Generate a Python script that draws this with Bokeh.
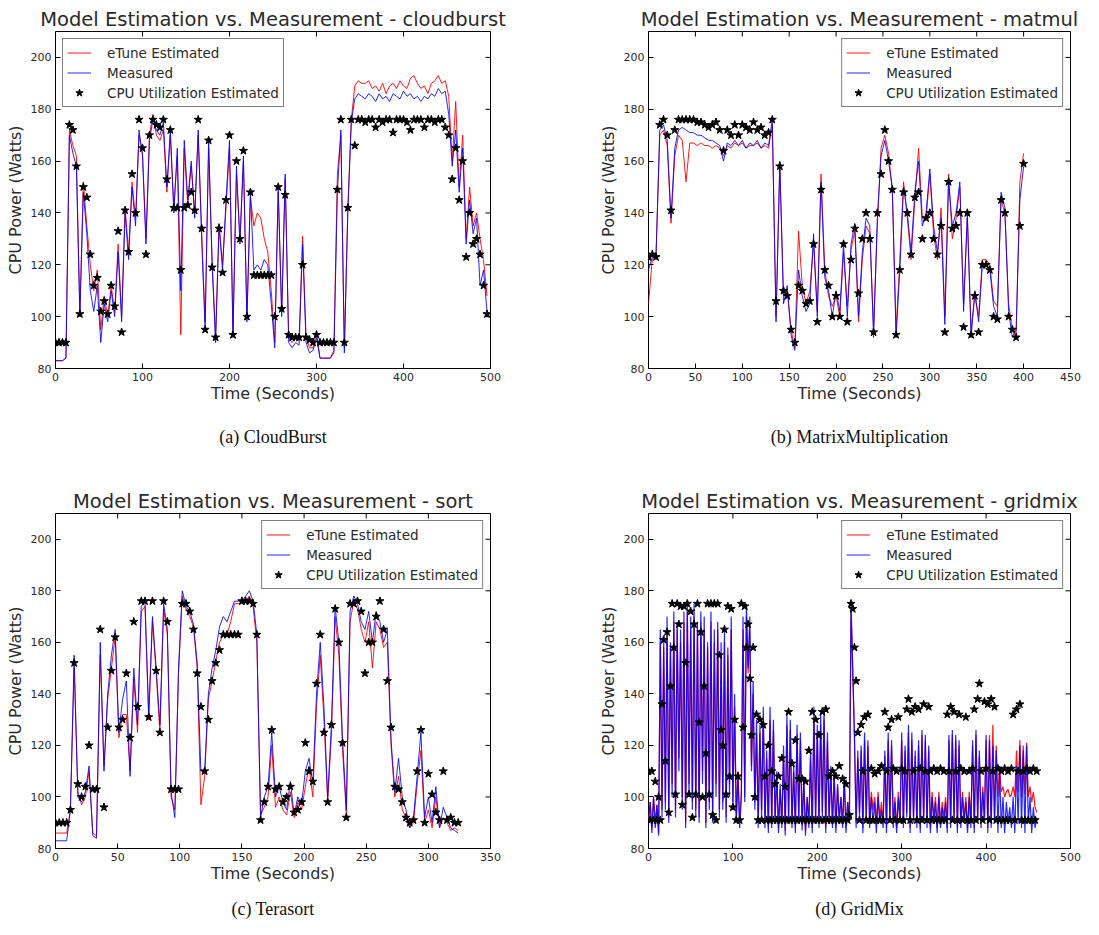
import numpy as np
from bokeh.plotting import figure
from bokeh.layouts import column, row
from bokeh.models import Title, Range1d, FixedTicker
from bokeh.embed import file_html
from bokeh.resources import INLINE

# ---------------- data ----------------
# (a) CloudBurst, one sample every 4 s
step_a = 4
measured_a = [83, 83, 83, 84, 170, 163, 158, 100, 148, 132,
              110, 102, 112, 90, 105, 98, 110, 100, 125, 98,
              140, 122, 150, 135, 172, 162, 128, 168, 176, 172,
              170, 175, 150, 172, 140, 165, 110, 168, 145, 160,
              138, 172, 130, 95, 168, 120, 90, 135, 118, 145,
              168, 92, 158, 128, 162, 98, 148, 118, 120, 118,
              122, 120, 105, 88, 150, 100, 155, 90, 88, 90,
              89, 128, 90, 86, 87, 92, 84, 84, 84, 84,
              86, 148, 172, 86, 140, 175, 184, 186, 185, 184,
              186, 185, 183, 186, 184, 185, 183, 186, 185, 184,
              187, 185, 186, 184, 185, 183, 185, 184, 186, 185,
              188, 186, 187, 178, 158, 172, 148, 165, 128, 145,
              132, 138, 112, 118, 102]
etune_a = [83, 83, 83, 84, 172, 166, 162, 102, 152, 135,
           120, 110, 118, 95, 108, 100, 112, 102, 128, 100,
           142, 125, 152, 138, 170, 163, 130, 170, 178, 170,
           168, 172, 148, 170, 142, 162, 93, 165, 143, 158,
           140, 170, 133, 98, 165, 122, 92, 136, 120, 142,
           165, 95, 155, 130, 160, 100, 146, 135, 140, 138,
           130, 125, 110, 90, 148, 102, 153, 92, 90, 92,
           91, 131, 92, 88, 88, 94, 84, 84, 84, 84,
           87, 155, 170, 88, 142, 176, 189, 191, 190, 190,
           191, 188, 189, 187, 190, 186, 189, 190, 188, 191,
           189, 188, 192, 193, 190, 188, 189, 186, 190, 191,
           193, 190, 191, 185, 160, 183, 150, 170, 130, 150,
           135, 140, 130, 122, 108]
cpu_a = [90, 90, 90, 90, 174, 172, 158, 101, 150, 146,
         124, 112, 115, 102, 106, 101, 112, 104, 133, 94,
         141, 125, 155, 140, 176, 165, 124, 170, 176, 174,
         173, 176, 153, 172, 142, 142, 118, 142, 143, 148,
         141, 176, 134, 95, 168, 119, 92, 134, 117, 145,
         170, 93, 160, 130, 164, 100, 148, 116, 116, 116,
         116, 116, 116, 100, 150, 103, 147, 93, 92, 92,
         92, 120, 92, 91, 90, 93, 90, 90, 90, 90,
         90, 149, 176, 90, 142, 176, 166, 176, 176, 175,
         176, 176, 173, 176, 175, 176, 176, 171, 176, 176,
         176, 175, 172, 176, 176, 176, 173, 176, 176, 175,
         176, 176, 173, 170, 153, 165, 145, 160, 123, 140,
         128, 130, 124, 112, 101]

# (b) MatrixMultiplication, one sample every 4 s
step_b = 4
measured_b = [118, 123, 123, 172, 174, 168, 138, 165, 172, 173,
              172, 171, 171, 170, 170, 169, 168, 168, 167, 166,
              160, 167, 166, 168, 166, 168, 165, 167, 166, 168,
              165, 167, 166, 176, 98, 160, 105, 112, 93, 87,
              118, 108, 102, 105, 132, 100, 152, 115, 110, 100,
              110, 102, 128, 100, 128, 136, 100, 125, 138, 135,
              92, 138, 162, 168, 160, 150, 92, 118, 150, 140,
              125, 148, 160, 135, 140, 157, 135, 125, 138, 97,
              152, 135, 140, 152, 102, 140, 92, 110, 98, 120,
              120, 118, 104, 100, 148, 142, 102, 92, 95, 145,
              158]
etune_b = [105, 122, 124, 170, 172, 166, 136, 162, 170, 168,
           152, 167, 167, 166, 167, 166, 166, 165, 166, 165,
           162, 166, 165, 167, 166, 167, 165, 166, 166, 167,
           165, 166, 165, 174, 100, 158, 108, 110, 95, 88,
           133, 112, 105, 110, 128, 102, 155, 118, 108, 104,
           108, 100, 125, 104, 126, 133, 98, 122, 135, 132,
           96, 135, 165, 170, 163, 148, 95, 122, 152, 138,
           122, 145, 165, 138, 138, 155, 132, 122, 142, 100,
           155, 130, 138, 150, 105, 138, 95, 108, 100, 122,
           122, 120, 106, 104, 145, 140, 105, 95, 92, 152,
           163]
cpu_b = [123, 124, 123, 174, 176, 170, 141, 172, 176, 176,
         176, 176, 176, 175, 175, 174, 173, 174, 175, 172,
         164, 172, 170, 174, 170, 174, 173, 172, 175, 172,
         173, 170, 171, 176, 106, 158, 110, 108, 95, 90,
         112, 110, 105, 106, 128, 98, 149, 118, 112, 100,
         108, 100, 128, 98, 122, 134, 109, 130, 140, 130,
         94, 140, 155, 172, 160, 149, 93, 118, 148, 140,
         124, 146, 148, 130, 138, 140, 130, 124, 135, 94,
         152, 134, 135, 140, 96, 140, 93, 108, 94, 120,
         120, 118, 100, 99, 145, 140, 100, 95, 92, 135,
         159]

# (c) Terasort, one sample every 3 s
step_c = 3
measured_c = [83, 83, 83, 83, 95, 155, 100, 98, 102, 112,
              85, 84, 160, 110, 140, 155, 165, 125, 138, 145,
              108, 150, 128, 174, 176, 132, 170, 150, 128, 175,
              165, 102, 92, 150, 180, 174, 172, 167, 152, 110,
              110, 140, 150, 157, 166, 170, 168, 172, 176, 176,
              176, 178, 180, 176, 163, 92, 100, 104, 125, 100,
              104, 98, 95, 106, 93, 100, 97, 110, 115, 105,
              140, 160, 135, 100, 128, 174, 160, 122, 95, 172,
              178, 175, 168, 165, 172, 160, 172, 168, 160, 165,
              122, 102, 115, 100, 95, 88, 92, 108, 125, 92,
              100, 90, 104, 88, 96, 92, 88, 87, 86]
etune_c = [86, 86, 86, 86, 95, 150, 102, 97, 100, 110,
           86, 85, 155, 112, 138, 150, 162, 123, 132, 132,
           110, 146, 125, 172, 174, 130, 168, 148, 125, 173,
           163, 100, 95, 148, 178, 173, 170, 166, 150, 97,
           108, 138, 145, 153, 160, 163, 163, 168, 175, 175,
           175, 176, 178, 174, 160, 93, 96, 100, 120, 96,
           100, 95, 93, 102, 92, 98, 95, 104, 112, 100,
           135, 155, 130, 98, 124, 170, 155, 118, 93, 168,
           176, 173, 165, 160, 168, 150, 168, 165, 158, 160,
           120, 100, 108, 95, 92, 88, 90, 105, 118, 90,
           95, 88, 100, 88, 92, 90, 87, 88, 87]
cpu_c = [90, 90, 90, 90, 95, 152, 105, 100, 104, 120,
         103, 103, 165, 96, 127, 149, 162, 127, 130, 148,
         123, 168, 135, 176, 176, 131, 176, 149, 125, 176,
         168, 103, 103, 103, 175, 175, 172, 165, 148, 135,
         110, 130, 145, 152, 157, 163, 163, 163, 163, 163,
         176, 176, 176, 175, 163, 91, 98, 104, 126, 103,
         104, 98, 100, 104, 94, 95, 98, 121, 110, 106,
         144, 163, 125, 98, 128, 173, 160, 121, 92, 175,
         175, 176, 172, 148, 160, 160, 170, 176, 165, 145,
         127, 104, 103, 98, 92, 90, 91, 110, 126, 90,
         109, 101, 94, 91, 110, 91, 92, 90, 90]

# (d) GridMix, one sample every 2 s
step_d = 2
measured_d = [90, 98, 86, 100, 88, 97, 85, 165, 92, 160,
              95, 170, 90, 160, 100, 172, 92, 168, 110, 165,
              95, 172, 88, 175, 100, 170, 95, 175, 92, 168,
              90, 172, 105, 170, 88, 160, 95, 172, 90, 165,
              100, 168, 92, 160, 95, 165, 90, 158, 100, 170,
              95, 140, 90, 108, 88, 100, 170, 98, 175, 150,
              170, 110, 145, 95, 130, 88, 128, 92, 135, 88,
              118, 86, 135, 88, 130, 90, 110, 86, 105, 88,
              120, 85, 132, 90, 130, 88, 112, 86, 128, 90,
              125, 87, 108, 85, 100, 88, 118, 86, 135, 90,
              128, 88, 132, 92, 135, 86, 125, 90, 112, 88,
              110, 86, 105, 90, 100, 88, 108, 86, 98, 90,
              175, 150, 125, 88, 118, 92, 120, 86, 125, 90,
              122, 88, 100, 90, 98, 86, 100, 90, 95, 88,
              118, 86, 125, 90, 122, 88, 98, 86, 100, 90,
              125, 88, 120, 92, 128, 86, 125, 90, 118, 88,
              122, 86, 126, 90, 124, 88, 120, 86, 100, 90,
              98, 86, 100, 88, 96, 90, 98, 86, 124, 88,
              126, 90, 124, 86, 122, 88, 100, 90, 98, 86,
              100, 88, 122, 86, 126, 90, 118, 88, 102, 90,
              124, 86, 122, 88, 120, 90, 118, 86, 110, 88,
              100, 86, 98, 90, 96, 88, 100, 86, 112, 90,
              120, 88, 118, 86, 120, 90, 100, 86, 96, 88,
              92]
etune_d = [92, 98, 88, 100, 90, 97, 86, 160, 95, 158,
           98, 165, 92, 158, 105, 168, 95, 165, 115, 160,
           100, 168, 90, 172, 105, 165, 98, 170, 95, 165,
           92, 168, 110, 165, 90, 158, 98, 168, 95, 160,
           105, 165, 95, 155, 98, 160, 92, 155, 105, 165,
           98, 135, 92, 110, 90, 102, 165, 100, 170, 148,
           165, 112, 140, 98, 125, 90, 125, 95, 130, 90,
           115, 88, 130, 90, 126, 92, 108, 88, 103, 90,
           116, 87, 128, 92, 126, 90, 110, 88, 124, 92,
           122, 89, 106, 87, 100, 90, 115, 88, 130, 92,
           125, 90, 128, 94, 130, 88, 122, 92, 110, 90,
           108, 88, 104, 92, 100, 90, 106, 88, 98, 92,
           172, 148, 122, 90, 115, 94, 118, 88, 122, 92,
           120, 90, 102, 95, 100, 90, 102, 92, 98, 90,
           116, 88, 122, 92, 120, 90, 100, 88, 102, 92,
           122, 90, 118, 94, 125, 88, 122, 92, 116, 90,
           120, 88, 124, 92, 122, 90, 118, 88, 102, 92,
           100, 88, 102, 90, 98, 92, 100, 88, 122, 90,
           124, 92, 122, 88, 120, 90, 102, 92, 100, 88,
           102, 90, 120, 88, 124, 92, 116, 90, 104, 92,
           122, 88, 124, 90, 128, 92, 120, 100, 112, 102,
           104, 100, 102, 103, 100, 101, 104, 100, 118, 102,
           122, 100, 120, 101, 121, 100, 104, 98, 102, 96,
           94]
cpu_d = [110, 91, 110, 91, 106, 91, 100, 91, 136, 161,
         114, 164, 94, 143, 175, 158, 101, 175, 167, 174,
         97, 174, 152, 175, 101, 172, 92, 167, 101, 175,
         129, 164, 100, 143, 117, 175, 101, 175, 93, 175,
         91, 175, 155, 126, 120, 165, 101, 174, 108, 173,
         96, 130, 91, 108, 91, 175, 127, 174, 158, 167,
         146, 124, 158, 100, 132, 91, 130, 91, 128, 108,
         91, 120, 91, 110, 91, 105, 91, 108, 91, 115,
         91, 104, 91, 133, 91, 113, 91, 122, 91, 107,
         91, 107, 91, 106, 91, 118, 91, 133, 91, 130,
         91, 124, 91, 133, 91, 134, 91, 108, 91, 110,
         91, 108, 91, 112, 91, 107, 91, 105, 91, 93,
         175, 173, 158, 145, 125, 91, 128, 110, 131, 91,
         132, 91, 111, 91, 109, 91, 110, 91, 112, 91,
         133, 110, 127, 91, 130, 111, 91, 110, 131, 91,
         111, 91, 110, 134, 138, 91, 133, 110, 135, 91,
         134, 111, 91, 136, 110, 91, 135, 110, 91, 111,
         91, 110, 91, 111, 91, 110, 91, 132, 110, 135,
         91, 133, 110, 91, 132, 111, 91, 110, 131, 91,
         110, 91, 111, 134, 91, 138, 144, 110, 91, 137,
         111, 136, 91, 138, 110, 135, 91, 111, 91, 110,
         91, 111, 91, 110, 91, 111, 132, 91, 134, 110,
         136, 91, 110, 91, 111, 91, 110, 91, 111, 91,
         110]

y_ticks = [80, 100, 120, 140, 160, 180, 200]
y_top = 210
x_ticks_a = [0, 100, 200, 300, 400, 500]
x_ticks_b = [0, 50, 100, 150, 200, 250, 300, 350, 400, 450]
x_ticks_c = [0, 50, 100, 150, 200, 250, 300, 350]
x_ticks_d = [0, 100, 200, 300, 400, 500]

SANS = "DejaVu Sans"
SERIF = "Liberation Serif"


def panel(title, caption, step, etune, measured, cpu, xticks, legend_loc,
          fw, fh, bl, br, bt, bb, cap_standoff, lw=1.0):
    t = np.arange(len(measured)) * step
    x0, x1 = xticks[0], xticks[-1]
    p = figure(frame_width=fw, frame_height=fh,
               min_border_left=bl, min_border_right=br,
               min_border_top=bt, min_border_bottom=bb,
               x_range=Range1d(x0, x1), y_range=Range1d(y_ticks[0], y_top),
               output_backend="svg", toolbar_location=None, title=title)
    p.title.text_font = SANS
    p.title.text_font_size = "19.5px"
    p.title.text_font_style = "normal"
    p.title.text_color = "#2a2a2a"
    p.title.align = "center"
    p.title.standoff = 2

    p.grid.visible = False
    p.outline_line_color = "black"
    p.outline_line_width = 1
    p.background_fill_color = "white"
    p.border_fill_color = "white"

    for ax, ticks in ((p.xaxis[0], xticks), (p.yaxis[0], y_ticks)):
        ax.ticker = FixedTicker(ticks=ticks)
        ax.major_tick_in = 5
        ax.major_tick_out = 0
        ax.minor_tick_line_color = None
        ax.axis_line_color = None
        ax.major_label_text_font = SANS
        ax.major_label_text_font_size = "11px"
        ax.major_label_text_color = "#2a2a2a"
        ax.axis_label_text_font = SANS
        ax.axis_label_text_font_size = "16px"
        ax.axis_label_text_font_style = "normal"
        ax.axis_label_text_color = "#2a2a2a"
        ax.major_label_standoff = 4
    p.xaxis.axis_label = "Time (Seconds)"
    p.yaxis.axis_label = "CPU Power (Watts)"
    p.xaxis.axis_label_standoff = 0
    p.yaxis.axis_label_standoff = 3

    p.line(t, etune, line_color="#ff0000", line_width=lw, line_alpha=0.9,
           legend_label="eTune Estimated")
    p.line(t, measured, line_color="#0000ff", line_width=lw, line_alpha=0.85,
           legend_label="Measured")
    p.scatter(t, cpu, marker="star", size=8.5, fill_color="black",
              line_color="black", legend_label="CPU Utilization Estimated")

    # inward tick marks on the top and right frame edges (mirroring the axes)
    p.scatter(xticks, [y_top] * len(xticks), marker="dash", angle=np.pi / 2,
              size=10, line_color="black", line_width=1)
    p.scatter([x1] * len(y_ticks), y_ticks, marker="dash", size=10,
              line_color="black", line_width=1)

    lg = p.legend[0]
    lg.location = legend_loc
    lg.margin = 7
    lg.padding = 4
    lg.spacing = 1
    lg.label_height = 19
    lg.glyph_height = 19
    lg.glyph_width = 24
    lg.label_standoff = 16
    lg.label_text_font = SANS
    lg.label_text_font_size = "13.5px"
    lg.label_text_color = "#2a2a2a"
    lg.border_line_color = "black"
    lg.border_line_width = 1
    lg.background_fill_color = "white"
    lg.background_fill_alpha = 1

    cap = Title(text=caption, align="center", text_font=SERIF,
                text_font_size="18px", text_font_style="normal",
                text_color="#111111", standoff=cap_standoff)
    p.add_layout(cap, "below")
    return p


pa = panel("Model Estimation vs. Measurement - cloudburst", "(a) CloudBurst",
           step_a, etune_a, measured_a, cpu_a, x_ticks_a, "top_left",
           435, 337, 55, 70, 31, 102, 39)
pb = panel("Model Estimation vs. Measurement - matmul", "(b) MatrixMultiplication",
           step_b, etune_b, measured_b, cpu_b, x_ticks_b, "top_right",
           422, 337, 88, 29, 31, 102, 39)
pc = panel("Model Estimation vs. Measurement - sort", "(c) Terasort",
           step_c, etune_c, measured_c, cpu_c, x_ticks_c, "top_right",
           435, 335, 55, 70, 43, 87, 22)
pd_ = panel("Model Estimation vs. Measurement - gridmix", "(d) GridMix",
            step_d, etune_d, measured_d, cpu_d, x_ticks_d, "top_right",
            422, 335, 88, 29, 43, 87, 22, lw=1.2)

layout = column(row(pa, pb, spacing=0), row(pc, pd_, spacing=0), spacing=0)

open("out.html", "w").write(file_html(layout, INLINE))
